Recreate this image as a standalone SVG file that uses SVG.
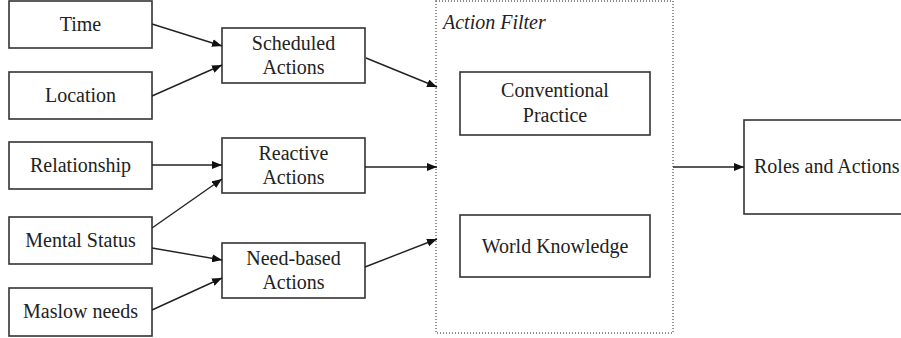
<svg xmlns="http://www.w3.org/2000/svg" width="901" height="338" viewBox="0 0 901 338">
<defs>
<marker id="ah" markerWidth="10" markerHeight="8" refX="10" refY="4" orient="auto" markerUnits="userSpaceOnUse">
<path d="M0,0 L10,4 L0,8 Z" fill="#111"/>
</marker>
<style>
.box{fill:#fff;stroke:#333;stroke-width:1.6}
.t{font-family:"Liberation Serif","Times New Roman",serif;font-size:20px;fill:#222;text-anchor:middle}
.c{stroke:#222;stroke-width:1.4;fill:none;marker-end:url(#ah)}
</style>
</defs>
<rect width="901" height="338" fill="#fff"/>
<g id="filter">
<rect x="436" y="1" width="237" height="332" fill="none" stroke="#666" stroke-width="1.4" stroke-dasharray="1 2"/>
<text x="443" y="29" style="font-family:'Liberation Serif','Times New Roman',serif;font-size:20px;font-style:italic;fill:#222">Action Filter</text>
</g>
<g id="time"><rect class="box" x="9" y="1" width="143" height="47"/><text class="t" x="80.5" y="31">Time</text></g>
<g id="location"><rect class="box" x="9" y="72" width="143" height="47"/><text class="t" x="80.5" y="102">Location</text></g>
<g id="relationship"><rect class="box" x="9" y="142" width="143" height="47"/><text class="t" x="80.5" y="172">Relationship</text></g>
<g id="mental"><rect class="box" x="9" y="217" width="143" height="47"/><text class="t" x="80.5" y="247">Mental Status</text></g>
<g id="maslow"><rect class="box" x="9" y="288" width="143" height="48"/><text class="t" x="80.5" y="318">Maslow needs</text></g>
<g id="scheduled"><rect class="box" x="222" y="28" width="143" height="55"/><text class="t" x="293.5" y="50">Scheduled</text><text class="t" x="293.5" y="74">Actions</text></g>
<g id="reactive"><rect class="box" x="222" y="138" width="143" height="55"/><text class="t" x="293.5" y="160">Reactive</text><text class="t" x="293.5" y="184">Actions</text></g>
<g id="needbased"><rect class="box" x="222" y="243" width="143" height="55"/><text class="t" x="293.5" y="265">Need-based</text><text class="t" x="293.5" y="289">Actions</text></g>
<g id="conventional"><rect class="box" x="460" y="72" width="190" height="63"/><text class="t" x="555" y="97">Conventional</text><text class="t" x="555" y="122">Practice</text></g>
<g id="world"><rect class="box" x="460" y="215" width="190" height="62"/><text class="t" x="555" y="253">World Knowledge</text></g>
<g id="roles"><rect class="box" x="744" y="120" width="170" height="94"/><text class="t" x="754" y="173" style="text-anchor:start">Roles and Actions</text></g>
<g id="connectors">
<line class="c" x1="152" y1="24" x2="222" y2="46"/>
<line class="c" x1="152" y1="96" x2="222" y2="65"/>
<line class="c" x1="152" y1="165" x2="222" y2="165"/>
<line class="c" x1="152" y1="228" x2="222" y2="179"/>
<line class="c" x1="152" y1="248" x2="222" y2="260"/>
<line class="c" x1="152" y1="310" x2="222" y2="278"/>
<line class="c" x1="366" y1="58" x2="437" y2="87"/>
<line class="c" x1="365" y1="167" x2="437" y2="167"/>
<line class="c" x1="365" y1="267" x2="437" y2="239"/>
<line class="c" x1="673" y1="167" x2="744" y2="167"/>
</g>
</svg>
